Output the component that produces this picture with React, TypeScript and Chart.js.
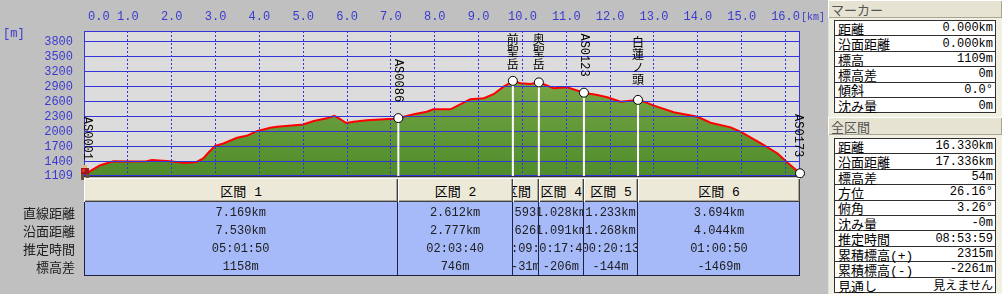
import React, { useEffect, useRef, useState } from 'react';
import { Chart, registerables } from 'chart.js';
Chart.register(...registerables);

// ---- profile data (distance km / elevation m) ----
const distKm = [0, 0.15, 0.37, 0.67, 1.1, 1.43, 1.55, 1.96, 2.31, 2.57, 2.72, 2.84, 2.99, 3.18, 3.49, 3.71, 3.94, 4.25, 4.4, 5.0, 5.24, 5.54, 5.71, 5.84, 5.98, 6.15, 6.45, 7.06, 7.169, 7.52, 7.82, 7.97, 8.36, 8.81, 9.12, 9.34, 9.57, 9.73, 9.781, 9.95, 10.18, 10.374, 10.71, 11.02, 11.402, 11.71, 11.93, 12.24, 12.47, 12.635, 12.77, 13.0, 13.45, 13.99, 14.29, 14.75, 14.98, 15.44, 15.82, 16.04, 16.33];
const elevM = [1109, 1210, 1324, 1404, 1400, 1404, 1431, 1404, 1370, 1390, 1459, 1579, 1712, 1760, 1873, 1913, 2007, 2074, 2094, 2138, 2208, 2263, 2315, 2249, 2168, 2194, 2222, 2255, 2267, 2343, 2395, 2444, 2444, 2645, 2665, 2745, 2898, 2978, 3013, 2966, 2952, 2982, 2866, 2886, 2776, 2731, 2685, 2596, 2617, 2632, 2596, 2516, 2383, 2295, 2174, 2082, 1993, 1760, 1559, 1378, 1163];

// ---- markers ----
const markerNames = ['AS0001', 'AS0086', '前聖岳', '奥聖岳', 'AS0123', '白蓮ノ頭', 'AS0173'];
const markerKm = [0, 7.169, 9.781, 10.374, 11.402, 12.635, 16.33];
const markerElev = [1109, 2267, 3013, 2982, 2776, 2632, 1163];

// ---- axes ----
const xTickValues = [0, 1, 2, 3, 4, 5, 6, 7, 8, 9, 10, 11, 12, 13, 14, 15, 16];
const yTickValues = [1109, 1400, 1700, 2000, 2300, 2600, 2900, 3200, 3500, 3800];

// ---- section table ----
const sectionNames = ['区間 1', '区間 2', '区間 3', '区間 4', '区間 5', '区間 6'];
const rowLabels = ['直線距離', '沿面距離', '推定時間', '標高差'];
const straightDist = ['7.169km', '2.612km', '0.593km', '1.028km', '1.233km', '3.694km'];
const surfaceDist = ['7.530km', '2.777km', '0.626km', '1.091km', '1.268km', '4.044km'];
const estTime = ['05:01:50', '02:03:40', '00:09:41', '00:17:45', '00:20:13', '01:00:50'];
const elevDiff = ['1158m', '746m', '-31m', '-206m', '-144m', '-1469m'];

// ---- right panel ----
const markerPanelLabels = ['距離', '沿面距離', '標高', '標高差', '傾斜', '沈み量'];
const markerPanelValues = ['0.000km', '0.000km', '1109m', '0m', '0.0°', '0m'];
const totalLabels = ['距離', '沿面距離', '標高差', '方位', '俯角', '沈み量', '推定時間', '累積標高(+)', '累積標高(-)', '見通し'];
const totalValues = ['16.330km', '17.336km', '54m', '26.16°', '3.26°', '-0m', '08:53:59', '2315m', '-2261m', '見えません'];

const GRID = '#3434d8';
const LABEL = '#3a3ad0';
const MONO = '"Liberation Mono", "Noto Sans CJK JP", monospace';
const CJK = '"Noto Sans CJK JP", sans-serif';

const overlayPlugin = {
  id: 'overlay',
  beforeDraw(chart: any) {
    const { ctx, chartArea: ca } = chart;
    ctx.save();
    ctx.fillStyle = '#dcdcdc';
    ctx.fillRect(ca.left, ca.top, ca.right - ca.left, ca.bottom - ca.top);
    ctx.restore();
  },
  afterDraw(chart: any) {
    const { ctx, chartArea: ca } = chart;
    const xs = chart.scales.x;
    const ys = chart.scales.y;
    ctx.save();
    // frame
    ctx.strokeStyle = GRID;
    ctx.lineWidth = 1;
    ctx.strokeRect(ca.left + 0.5, ca.top + 0.5, ca.right - ca.left - 1, ca.bottom - ca.top - 1);
    ctx.strokeStyle = '#303030';
    ctx.beginPath();
    ctx.moveTo(ca.left, ca.bottom + 0.5);
    ctx.lineTo(ca.right, ca.bottom + 0.5);
    ctx.stroke();

    // axis labels
    ctx.fillStyle = LABEL;
    ctx.font = '12px ' + MONO;
    ctx.textBaseline = 'middle';
    xTickValues.forEach((v) => {
      const px = xs.getPixelForValue(v);
      if (v === 0) {
        ctx.textAlign = 'left';
        ctx.fillText(v.toFixed(1), ca.left + 4, 17);
      } else {
        ctx.textAlign = 'center';
        ctx.fillText(v.toFixed(1), px, 17);
      }
    });
    ctx.textAlign = 'left';
    ctx.fillText('[m]', 3, 34);
    ctx.font = '10px ' + MONO;
    ctx.fillText('[km]', ca.right + 1, 17);
    ctx.font = '12px ' + MONO;
    ctx.textAlign = 'right';
    yTickValues.forEach((v) => {
      ctx.fillText(String(v), ca.left - 11, ys.getPixelForValue(v));
    });

    // marker stems
    const pts = markerKm.map((k, i) => ({ x: xs.getPixelForValue(k), y: ys.getPixelForValue(markerElev[i]) }));
    ctx.strokeStyle = '#ffffff';
    ctx.lineWidth = 2;
    pts.forEach((p, i) => {
      if (i === 0 || i === pts.length - 1) return;
      ctx.beginPath();
      ctx.moveTo(p.x, p.y);
      ctx.lineTo(p.x, ca.bottom);
      ctx.stroke();
    });
    // marker circles
    pts.forEach((p, i) => {
      if (i === 0) return;
      ctx.beginPath();
      ctx.arc(p.x, p.y, 4.5, 0, Math.PI * 2);
      ctx.fillStyle = '#ffffff';
      ctx.fill();
      ctx.strokeStyle = '#000000';
      ctx.lineWidth = 1;
      ctx.stroke();
    });
    // hiker icon at start
    const h = pts[0];
    ctx.fillStyle = '#e8b878';
    ctx.fillRect(h.x - 1, h.y - 11, 4, 3);
    ctx.fillStyle = '#a01818';
    ctx.fillRect(h.x - 3, h.y - 8, 8, 6);
    ctx.fillStyle = '#e03030';
    ctx.fillRect(h.x - 2, h.y - 7, 3, 3);
    ctx.fillStyle = '#6a5038';
    ctx.fillRect(h.x - 3, h.y - 2, 3, 6);
    ctx.fillRect(h.x + 2, h.y - 2, 3, 6);

    // marker labels
    ctx.fillStyle = '#000000';
    pts.forEach((p, i) => {
      const name = markerNames[i];
      const lx = Math.min(Math.max(p.x, ca.left + 3), ca.right - 2);
      if (/^[\x00-\x7f]+$/.test(name)) {
        ctx.font = '12px ' + MONO;
        const L = ctx.measureText(name).width;
        const end = p.y - 16;
        const start = Math.max(ca.top + 2, end - L);
        ctx.save();
        ctx.translate(lx, start);
        ctx.rotate(Math.PI / 2);
        ctx.textAlign = 'left';
        ctx.textBaseline = 'middle';
        ctx.fillText(name, 0, 0);
        ctx.restore();
      } else {
        ctx.font = '12px ' + CJK;
        ctx.textAlign = 'center';
        ctx.textBaseline = 'middle';
        const chars = Array.from(name);
        const step = 12.5;
        const top = Math.max(ca.top + 2, p.y - 14 - chars.length * step);
        chars.forEach((c, j) => ctx.fillText(c, lx, top + step * j + step / 2));
      }
    });
    ctx.restore();
  },
};

const headerCellStyle: React.CSSProperties = {
  position: 'absolute',
  top: 178,
  height: 24,
  background: '#ece9d8',
  boxShadow: 'inset 1px 1px 0 #ffffff, inset -1px -1px 0 #404040, inset -2px -2px 0 #aca899',
  display: 'flex',
  alignItems: 'center',
  justifyContent: 'center',
  overflow: 'hidden',
  whiteSpace: 'nowrap',
  fontFamily: MONO,
  fontSize: 13,
  color: '#000',
  boxSizing: 'border-box',
};

function PanelTable({ top, labels, values }: { top: number; labels: string[]; values: string[] }) {
  const rowH = 15.4;
  return (
    <div style={{ position: 'absolute', left: 834, top, width: 162, height: rowH * labels.length + 1, background: '#fff', border: '1px solid #303030', boxSizing: 'border-box' }}>
      {labels.map((l, i) => (
        <div key={i} style={{ position: 'absolute', left: 0, right: 0, top: i * rowH, height: rowH, borderBottom: i < labels.length - 1 ? '1px solid #303030' : 'none', boxSizing: 'border-box', display: 'flex', alignItems: 'center', justifyContent: 'space-between', padding: '0 2px 0 3px', whiteSpace: 'nowrap' }}>
          <span style={{ fontFamily: MONO, fontSize: 13, color: '#000' }}>{l}</span>
          <span style={{ fontFamily: MONO, fontSize: 12, color: '#000' }}>{values[i]}</span>
        </div>
      ))}
    </div>
  );
}

export default function App() {
  const canvasRef = useRef<HTMLCanvasElement>(null);
  const [cols, setCols] = useState<number[] | null>(null);

  useEffect(() => {
    const chart = new Chart(canvasRef.current as HTMLCanvasElement, {
      type: 'line',
      data: {
        datasets: [
          {
            data: distKm.map((d, i) => ({ x: d, y: elevM[i] })),
            borderColor: '#ff0000',
            borderWidth: 2,
            pointRadius: 0,
            tension: 0,
            fill: 'start',
            backgroundColor: (c: any) => {
              const ca = c.chart.chartArea;
              if (!ca) return '#6a9e3c';
              const g = c.chart.ctx.createLinearGradient(0, ca.top, 0, ca.bottom);
              g.addColorStop(0, '#8cb352');
              g.addColorStop(1, '#4f8c2c');
              return g;
            },
          },
        ],
      },
      options: {
        responsive: false,
        animation: false,
        layout: { padding: { left: 84, top: 31, right: 26, bottom: 118 } },
        plugins: { legend: { display: false }, tooltip: { enabled: false } },
        scales: {
          x: {
            type: 'linear',
            min: 0,
            max: 16.33,
            ticks: { display: false },
            grid: {
              z: 1,
              drawTicks: false,
              lineWidth: 1,
              color: (c: any) => (c.tick && c.tick.value === 0 ? 'rgba(0,0,0,0)' : GRID),
              borderDash: [2, 2],
            } as any,
            border: { display: false, dash: [2, 2] },
            afterBuildTicks: (s: any) => {
              s.ticks = xTickValues.map((v) => ({ value: v }));
            },
          },
          y: {
            type: 'linear',
            min: 1109,
            max: 4010,
            ticks: { display: false },
            grid: {
              z: 1,
              drawTicks: false,
              lineWidth: 1,
              color: (c: any) => (c.tick && c.tick.value === 1109 ? 'rgba(0,0,0,0)' : GRID),
            },
            border: { display: false },
            afterBuildTicks: (s: any) => {
              s.ticks = yTickValues.map((v) => ({ value: v }));
            },
          },
        },
      },
      plugins: [overlayPlugin],
    } as any);
    setCols(markerKm.map((k) => chart.scales.x.getPixelForValue(k)));
    return () => chart.destroy();
  }, []);

  const rows = [straightDist, surfaceDist, estTime, elevDiff];

  return (
    <div style={{ position: 'fixed', left: 0, top: 0, width: 1002, height: 294, background: '#c0c0c0', overflow: 'hidden' }}>
      <canvas ref={canvasRef} width={826} height={294} style={{ position: 'absolute', left: 0, top: 0, width: 826, height: 294 }} />

      {rowLabels.map((l, i) => (
        <div key={l} style={{ position: 'absolute', left: 0, width: 75, top: 203.5 + i * 18, height: 18, display: 'flex', alignItems: 'center', justifyContent: 'flex-end', fontFamily: CJK, fontSize: 13, color: '#202020', whiteSpace: 'nowrap' }}>{l}</div>
      ))}

      {cols && (
        <>
          <div style={{ position: 'absolute', left: cols[0], top: 202, width: cols[6] - cols[0], height: 74, background: '#a6b9f8', border: '1px solid #202040', borderTop: 'none', boxSizing: 'border-box' }} />
          {sectionNames.map((n, i) => (
            <div key={n} style={{ ...headerCellStyle, left: cols[i], width: cols[i + 1] - cols[i] }}>{n}</div>
          ))}
          {sectionNames.map((n, i) => (
            <div key={'c' + n} style={{ position: 'absolute', left: cols[i], width: cols[i + 1] - cols[i], top: 202, height: 74, borderRight: i < 5 ? '1px solid #202040' : 'none', boxSizing: 'border-box', overflow: 'hidden' }}>
              {rows.map((r, j) => (
                <div key={j} style={{ position: 'absolute', left: 0, right: 0, top: 1.5 + j * 18, height: 18, display: 'flex', alignItems: 'center', justifyContent: 'center', whiteSpace: 'nowrap', fontFamily: MONO, fontSize: 12, color: '#202020' }}>{r[i]}</div>
              ))}
            </div>
          ))}
        </>
      )}

      {/* right panel */}
      <div style={{ position: 'absolute', left: 828, top: 0, width: 174, height: 294, background: '#f1efe2', borderLeft: '1px solid #e0e0e0', boxSizing: 'border-box' }} />
      <div style={{ position: 'absolute', left: 828, top: 0, width: 174, height: 18, background: '#e6e3d3', boxShadow: 'inset 1px 1px 0 #ffffff, inset -1px -1px 0 #a8a594', display: 'flex', alignItems: 'center', paddingLeft: 3, boxSizing: 'border-box', fontFamily: CJK, fontSize: 13, color: '#555' }}>マーカー</div>
      <PanelTable top={20} labels={markerPanelLabels} values={markerPanelValues} />
      <div style={{ position: 'absolute', left: 828, top: 117, width: 174, height: 18, background: '#e6e3d3', boxShadow: 'inset 1px 1px 0 #ffffff, inset -1px -1px 0 #a8a594', display: 'flex', alignItems: 'center', paddingLeft: 3, boxSizing: 'border-box', fontFamily: CJK, fontSize: 13, color: '#555' }}>全区間</div>
      <PanelTable top={138} labels={totalLabels} values={totalValues} />
    </div>
  );
}
